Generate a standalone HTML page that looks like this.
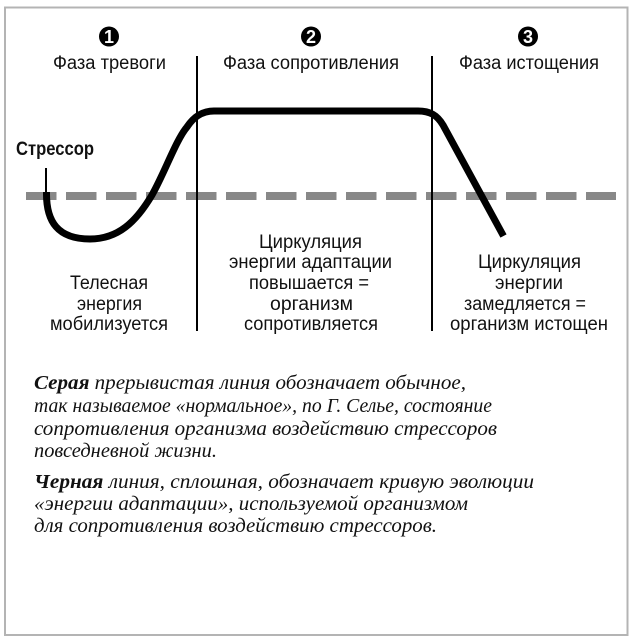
<!DOCTYPE html>
<html><head><meta charset="utf-8"><style>
html,body{margin:0;padding:0;background:#fff}
svg{display:block}
.s{font-family:"Liberation Sans",sans-serif;font-size:19px;fill:#111}
.i{font-family:"Liberation Serif",serif;font-style:italic;font-size:20px;fill:#111}
.b{font-weight:bold}
</style></head><body>
<svg width="637" height="642" viewBox="0 0 637 642" xmlns="http://www.w3.org/2000/svg">
<rect width="637" height="642" fill="#fff"/>
<rect x="5" y="7.500" width="622.500" height="627.500" fill="none" stroke="#b4b4b4" stroke-width="2"/>
<line x1="26" y1="196" x2="616" y2="196" stroke="#888" stroke-width="8" stroke-dasharray="30.5 9.5"/>
<line x1="46" y1="168" x2="46" y2="195" stroke="#000" stroke-width="2"/>
<path d="M46.500 192 C46 222 58 239 90 239 C118 239 136 222 152 195 C165 172 176 140 187 127 C193 118 201 111 214 111 L418 111 C430 111 437 115 443 125 L503.500 236" fill="none" stroke="#000" stroke-width="7"/>
<line x1="197" y1="56" x2="197" y2="331" stroke="#000" stroke-width="2"/>
<line x1="432" y1="56" x2="432" y2="331" stroke="#000" stroke-width="2"/>
<circle cx="109" cy="36.500" r="10" fill="#000"/>
<circle cx="311" cy="36.500" r="10" fill="#000"/>
<circle cx="528" cy="36.500" r="10" fill="#000"/>
<g font-family="Liberation Sans, sans-serif" font-weight="bold" font-size="18" fill="#fff" text-anchor="middle">
<text x="109" y="43">1</text><text x="311" y="43">2</text><text x="528" y="43">3</text>
</g>
<g class="s">
<text x="53" y="69" textLength="113" lengthAdjust="spacingAndGlyphs">Фаза тревоги</text>
<text x="223" y="69" textLength="176" lengthAdjust="spacingAndGlyphs">Фаза сопротивления</text>
<text x="459" y="69" textLength="140" lengthAdjust="spacingAndGlyphs">Фаза истощения</text>
<text x="70" y="289" textLength="78" lengthAdjust="spacingAndGlyphs">Телесная</text>
<text x="77" y="310" textLength="65" lengthAdjust="spacingAndGlyphs">энергия</text>
<text x="50" y="330" textLength="118" lengthAdjust="spacingAndGlyphs">мобилизуется</text>
<text x="259" y="248" textLength="103" lengthAdjust="spacingAndGlyphs">Циркуляция</text>
<text x="229" y="268" textLength="163" lengthAdjust="spacingAndGlyphs">энергии адаптации</text>
<text x="249" y="289" textLength="120" lengthAdjust="spacingAndGlyphs">повышается =</text>
<text x="270" y="310" textLength="83" lengthAdjust="spacingAndGlyphs">организм</text>
<text x="244" y="330" textLength="134" lengthAdjust="spacingAndGlyphs">сопротивляется</text>
<text x="478" y="268" textLength="103" lengthAdjust="spacingAndGlyphs">Циркуляция</text>
<text x="495" y="289" textLength="68" lengthAdjust="spacingAndGlyphs">энергии</text>
<text x="464" y="310" textLength="122" lengthAdjust="spacingAndGlyphs">замедляется =</text>
<text x="450" y="330" textLength="158" lengthAdjust="spacingAndGlyphs">организм истощен</text>
<text class="b" x="16" y="155" textLength="78" lengthAdjust="spacingAndGlyphs">Стрессор</text>
</g>
<g class="i">
<text x="34" y="389" textLength="432" lengthAdjust="spacingAndGlyphs"><tspan class="b">Серая</tspan> прерывистая линия обозначает обычное,</text>
<text x="34" y="412" textLength="458" lengthAdjust="spacingAndGlyphs">так называемое «нормальное», по Г. Селье, состояние</text>
<text x="34" y="435" textLength="463" lengthAdjust="spacingAndGlyphs">сопротивления организма воздействию стрессоров</text>
<text x="34" y="457" textLength="183" lengthAdjust="spacingAndGlyphs">повседневной жизни.</text>
<text x="34" y="488" textLength="500" lengthAdjust="spacingAndGlyphs"><tspan class="b">Черная</tspan> линия, сплошная, обозначает кривую эволюции</text>
<text x="34" y="510" textLength="434" lengthAdjust="spacingAndGlyphs">«энергии адаптации», используемой организмом</text>
<text x="34" y="532" textLength="403" lengthAdjust="spacingAndGlyphs">для сопротивления воздействию стрессоров.</text>
</g>
</svg>
</body></html>
